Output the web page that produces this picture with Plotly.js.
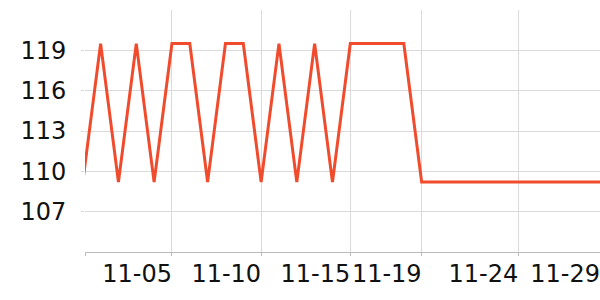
<!DOCTYPE html>
<html>
<head>
<meta charset="utf-8">
<script src="https://cdn.plot.ly/plotly-3.0.1.min.js"></script>
<style>html,body{margin:0;padding:0;background:#fff;}#chart{width:600px;height:300px;}</style>
</head>
<body>
<div id="chart"></div>
<script>
const dates = ['2024-10-31','2024-11-01','2024-11-02','2024-11-03','2024-11-04','2024-11-05','2024-11-06','2024-11-07','2024-11-08','2024-11-09','2024-11-10','2024-11-11','2024-11-12','2024-11-13','2024-11-14','2024-11-15','2024-11-16','2024-11-17','2024-11-18','2024-11-19','2024-11-20','2024-11-21','2024-11-22','2024-11-23','2024-11-24','2024-11-25','2024-11-26','2024-11-27','2024-11-28','2024-11-29'];
const values = [109.2,119.5,109.2,119.5,109.2,119.5,119.5,109.2,119.5,119.5,109.2,119.5,109.2,119.5,109.2,119.5,119.5,119.5,119.5,109.2,109.2,109.2,109.2,109.2,109.2,109.2,109.2,109.2,109.2,109.2];
const xRange = ['2024-10-31 03:00','2024-11-29'];
const xTickVals = ['2024-10-31 03:00','2024-11-05','2024-11-10','2024-11-15','2024-11-19','2024-11-24 10:00','2024-11-29'];
const xTickText = ['','11-05','11-10','11-15','11-19','11-24','11-29'];
const yTickVals = [107,110,113,116,119];
const yRange = [104,122];

const trace = {x: dates, y: values, type: 'scatter', mode: 'lines', line: {color: '#f04b2d', width: 3}, hoverinfo: 'skip'};
const layout = {
  width: 600, height: 300,
  margin: {l: 85, r: 0, t: 10, b: 48},
  paper_bgcolor: '#fff', plot_bgcolor: '#fff',
  showlegend: false,
  font: {family: 'DejaVu Sans', size: 24, color: '#111'},
  xaxis: {type: 'date', range: xRange, tickmode: 'array', tickvals: xTickVals, ticktext: xTickText,
    ticklabelposition: 'outside left', tickangle: 0, ticklabeloverflow: 'allow', ticklabelshift: 1,
    showgrid: true, gridcolor: '#dadada', gridwidth: 1,
    showline: true, linecolor: '#bbbbbb', linewidth: 1,
    ticks: 'outside', ticklen: 3, tickcolor: '#bbbbbb', zeroline: false,
    tickfont: {family: 'DejaVu Sans', size: 24, color: '#111'}},
  yaxis: {range: yRange, tickmode: 'array', tickvals: yTickVals,
    showgrid: true, gridcolor: '#dadada', gridwidth: 1,
    showline: false, zeroline: false, ticklabelstandoff: 10,
    ticks: 'outside', ticklen: 3, tickcolor: '#dadada',
    tickfont: {family: 'DejaVu Sans', size: 24, color: '#111'}}
};
Plotly.newPlot('chart', [trace], layout, {displayModeBar: false, staticPlot: true});
</script>
</body>
</html>
